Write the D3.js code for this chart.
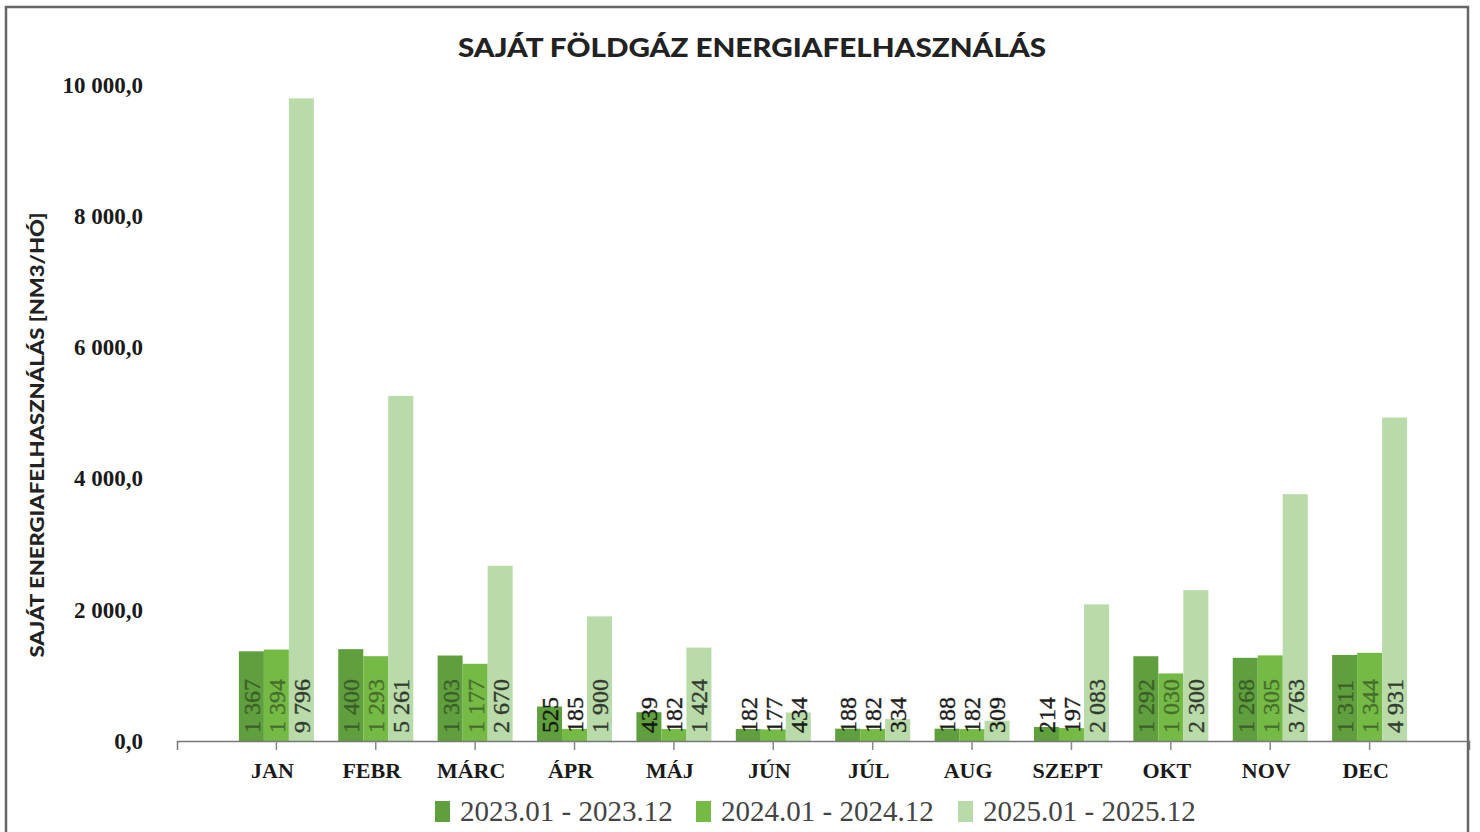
<!DOCTYPE html>
<html>
<head>
<meta charset="utf-8">
<script src="https://cdn.jsdelivr.net/npm/d3@7"></script>
<style>
  body { margin: 0; background: #fff; }
  svg { display: block; }
</style>
</head>
<body>
<div id="chart"></div>
<script>
// data
const months = ['JAN', 'FEBR', 'MÁRC', 'ÁPR', 'MÁJ', 'JÚN', 'JÚL', 'AUG', 'SZEPT', 'OKT', 'NOV', 'DEC'];
const seriesNames = ['2023.01 - 2023.12', '2024.01 - 2024.12', '2025.01 - 2025.12'];
const values2023 = [1367, 1400, 1303, 525, 439, 182, 188, 188, 214, 1292, 1268, 1311];
const values2024 = [1394, 1293, 1177, 185, 182, 177, 182, 182, 197, 1030, 1305, 1344];
const values2025 = [9796, 5261, 2670, 1900, 1424, 434, 334, 309, 2083, 2300, 3763, 4931];
const yTicks = [0, 2000, 4000, 6000, 8000, 10000];
const colors = ['#5f9f3d', '#74ba45', '#b9dba9'];

const width = 1480;
const height = 832;
const series = [values2023, values2024, values2025];

const svg = d3.select('#chart')
  .append('svg')
  .attr('width', width)
  .attr('height', height);

// outer frame
svg.append('rect')
  .attr('x', 6).attr('y', 7)
  .attr('width', 1462).attr('height', 840)
  .attr('fill', 'none')
  .attr('stroke', '#666')
  .attr('stroke-width', 2.5);

// title
svg.append('text')
  .attr('x', 752).attr('y', 57)
  .attr('text-anchor', 'middle')
  .attr('font-family', 'Lato, "Open Sans", sans-serif')
  .attr('font-weight', 900)
  .attr('font-size', 27)
  .attr('fill', '#222')
  .attr('textLength', 588)
  .attr('lengthAdjust', 'spacingAndGlyphs')
  .text('SAJÁT FÖLDGÁZ ENERGIAFELHASZNÁLÁS');

// y axis title
svg.append('text')
  .attr('transform', 'translate(44, 435) rotate(-90)')
  .attr('text-anchor', 'middle')
  .attr('font-family', 'Lato, "Open Sans", sans-serif')
  .attr('font-weight', 900)
  .attr('font-size', 19)
  .attr('fill', '#222')
  .attr('textLength', 445)
  .attr('lengthAdjust', 'spacingAndGlyphs')
  .text('SAJÁT ENERGIAFELHASZNÁLÁS [NM3/HÓ]');

const xScale = d3.scaleBand()
  .domain(months)
  .range([177, 1469])
  .paddingInner(0)
  .paddingOuter(0.5);

const xInner = d3.scaleBand()
  .domain(d3.range(3))
  .range([-37.5, 37.5]);

const yScale = d3.scaleLinear()
  .domain([0, 10000])
  .range([741, 85]);

const fmtNum = (v) => d3.format(',')(v).replace(/,/g, ' ');
const fmtTick = (v) => fmtNum(v) + ',0';

// y axis labels (no line)
const yAxis = d3.axisLeft(yScale)
  .tickValues(yTicks)
  .tickFormat(fmtTick)
  .tickSize(0)
  .tickPadding(0);

const yG = svg.append('g')
  .attr('transform', 'translate(143, 0)')
  .call(yAxis);
yG.select('.domain').remove();
yG.selectAll('text')
  .attr('font-family', '"Liberation Serif", "DejaVu Serif", serif')
  .attr('font-weight', 'bold')
  .attr('font-size', 23)
  .attr('fill', '#1a1a1a');

// bars
const groups = svg.append('g')
  .selectAll('g')
  .data(months)
  .join('g')
  .attr('transform', (d) => `translate(${xScale(d) + xScale.bandwidth() / 2}, 0)`);

const cells = groups.selectAll('g')
  .data((m, i) => series.map((s, k) => ({ k, value: s[i] })))
  .join('g');

cells.append('rect')
  .attr('x', (d) => xInner(d.k))
  .attr('width', xInner.bandwidth())
  .attr('y', (d) => yScale(d.value))
  .attr('height', (d) => yScale(0) - yScale(d.value))
  .attr('fill', (d) => colors[d.k]);

// value labels, rotated
cells.append('text')
  .attr('transform', (d) => `translate(${xInner(d.k) + xInner.bandwidth() / 2}, 733) rotate(-90)`)
  .attr('dy', '0.35em')
  .attr('font-family', '"Liberation Serif", "DejaVu Serif", serif')
  .attr('font-size', 24)
  .attr('stroke', '#111')
  .attr('stroke-width', 0.4)
  .attr('fill', '#111')
  .attr('opacity', (d) => {
    const labelTop = 733 - fmtNum(d.value).length * 11;
    const inside = yScale(d.value) < labelTop;
    if (!inside) return 0.95;
    return d.k === 2 ? 0.8 : 0.45;
  })
  .text((d) => fmtNum(d.value));

// x axis
const xAxis = d3.axisBottom(xScale)
  .tickSize(9)
  .tickSizeOuter(9)
  .tickPadding(12);

const xG = svg.append('g')
  .attr('transform', 'translate(0, 741)')
  .call(xAxis);
xG.select('.domain').attr('stroke', '#777').attr('stroke-width', 1.5);
xG.selectAll('.tick line').attr('stroke', '#888').attr('stroke-width', 1.5);
xG.selectAll('text')
  .attr('x', -4)
  .attr('font-family', '"Liberation Serif", "DejaVu Serif", serif')
  .attr('font-weight', 'bold')
  .attr('font-size', 22)
  .attr('fill', '#1a1a1a');

// legend
const legendX = [435, 696, 958];
const legend = svg.append('g')
  .selectAll('g')
  .data(seriesNames)
  .join('g')
  .attr('transform', (d, i) => `translate(${legendX[i]}, 801)`);

legend.append('rect')
  .attr('width', 15)
  .attr('height', 21)
  .attr('fill', (d, i) => colors[i]);

legend.append('text')
  .attr('x', 25)
  .attr('y', 20)
  .attr('font-family', '"Liberation Serif", "DejaVu Serif", serif')
  .attr('font-size', 29)
  .attr('fill', '#444')
  .text((d) => d);
</script>
</body>
</html>
